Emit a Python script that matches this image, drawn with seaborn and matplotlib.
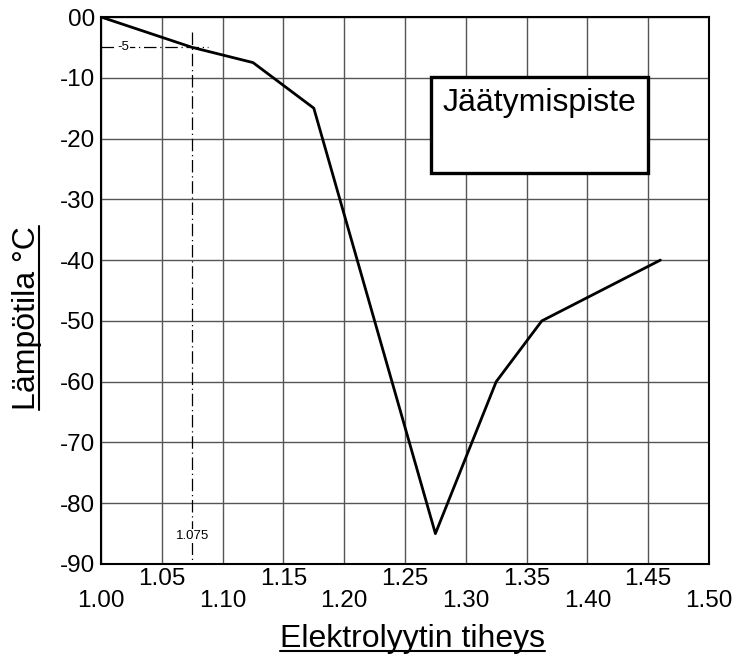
import matplotlib
matplotlib.use("Agg")
import matplotlib.pyplot as plt
from matplotlib.patches import Rectangle
from matplotlib.lines import Line2D
import numpy as np
import pandas as pd
import seaborn as sns

# Freezing point of electrolyte vs. density
density = [1.000, 1.075, 1.125, 1.175, 1.275, 1.325, 1.3625, 1.46]
temperature = [0, -5, -7.5, -15, -85, -60, -50, -40]

x_major = [1.00, 1.10, 1.20, 1.30, 1.40, 1.50]
x_minor = [1.05, 1.15, 1.25, 1.35, 1.45]
y_ticks = [0, -10, -20, -30, -40, -50, -60, -70, -80, -90]
y_labels = ["00", "-10", "-20", "-30", "-40", "-50", "-60", "-70", "-80", "-90"]

ref_density = 1.075
ref_temp = -5

sns.set_style("white")
plt.rcParams["font.family"] = ["Liberation Sans", "DejaVu Sans"]
plt.rcParams["text.color"] = "black"
plt.rcParams["xtick.color"] = "black"
plt.rcParams["ytick.color"] = "black"
plt.rcParams["xtick.labelcolor"] = "black"
plt.rcParams["ytick.labelcolor"] = "black"

df = pd.DataFrame({"density": density, "temperature": temperature})

fig = plt.figure(figsize=(7.5, 6.57), dpi=100)
ax = fig.add_axes([101 / 750, 1 - 564 / 657, 608 / 750, 547 / 657])

sns.lineplot(data=df, x="density", y="temperature", sort=False, color="black",
             linewidth=2.0, ax=ax, zorder=5)

ax.set_xlim(1.0, 1.5)
ax.set_ylim(-90, 0)
ax.set_xticks(x_major)
ax.set_xticklabels([f"{v:.2f}" for v in x_major])
ax.set_xticks(x_minor, minor=True)
ax.set_xticklabels([f"{v:.2f}" for v in x_minor], minor=True)
ax.set_yticks(y_ticks)
ax.set_yticklabels(y_labels)
ax.tick_params(axis="x", which="major", length=0, pad=19, labelsize=17.5,
               labelcolor="black")
ax.tick_params(axis="x", which="minor", length=0, pad=3, labelsize=17.5,
               labelcolor="black")
ax.tick_params(axis="y", length=0, pad=4, labelsize=17.5, labelcolor="black")
ax.grid(True, which="both", color="#555555", linewidth=1.0)
ax.set_axisbelow(True)
for s in ax.spines.values():
    s.set_color("black")
    s.set_linewidth(1.5)
ax.set_xlabel("")
ax.set_ylabel("")

# Reference lines for the -5 °C reading
ax.plot([ref_density, ref_density], [-2.5, -90], color="black", linewidth=0.9,
        linestyle=(0, (10, 3, 1, 3)), zorder=4)
ax.plot([1.0, 1.088], [ref_temp, ref_temp], color="black", linewidth=0.9,
        linestyle=(0, (10, 3, 1, 3)), zorder=4)
ax.text(1.018, ref_temp, "-5", fontsize=9.5, ha="center", va="center",
        zorder=6, color="black",
        bbox=dict(facecolor="white", edgecolor="none", pad=1))
ax.text(ref_density, -85.4, f"{ref_density:.3f}", fontsize=9.5, ha="center",
        va="center", zorder=6, color="black",
        bbox=dict(facecolor="white", edgecolor="none", pad=1))

# Title box
ax.add_patch(Rectangle((1.271, -25.7), 0.179, 15.83, facecolor="white",
                       edgecolor="black", linewidth=2.4, zorder=3))
ax.text(1.3605, -14.2, "Jäätymispiste", fontsize=23, ha="center", va="center",
        zorder=6, color="black")

# Underlined axis titles
xl = fig.text(412 / 750, 1 - 639 / 657, "Elektrolyytin tiheys", fontsize=23,
              ha="center", va="center", color="black")
yl = fig.text(27 / 750, 1 - 318 / 657, "Lämpötila °C", fontsize=23,
              ha="center", va="center", rotation=90, color="black")
fig.canvas.draw()
r = fig.canvas.get_renderer()
inv = fig.transFigure.inverted()
bb = xl.get_window_extent(r).transformed(inv)
fig.add_artist(Line2D([bb.x0, bb.x1], [bb.y0 + 0.004, bb.y0 + 0.004],
                      transform=fig.transFigure, color="black", linewidth=1.5))
bb = yl.get_window_extent(r).transformed(inv)
fig.add_artist(Line2D([bb.x1 - 0.004, bb.x1 - 0.004], [bb.y0, bb.y1],
                      transform=fig.transFigure, color="black", linewidth=1.5))

fig.savefig("out.png", dpi=100)
